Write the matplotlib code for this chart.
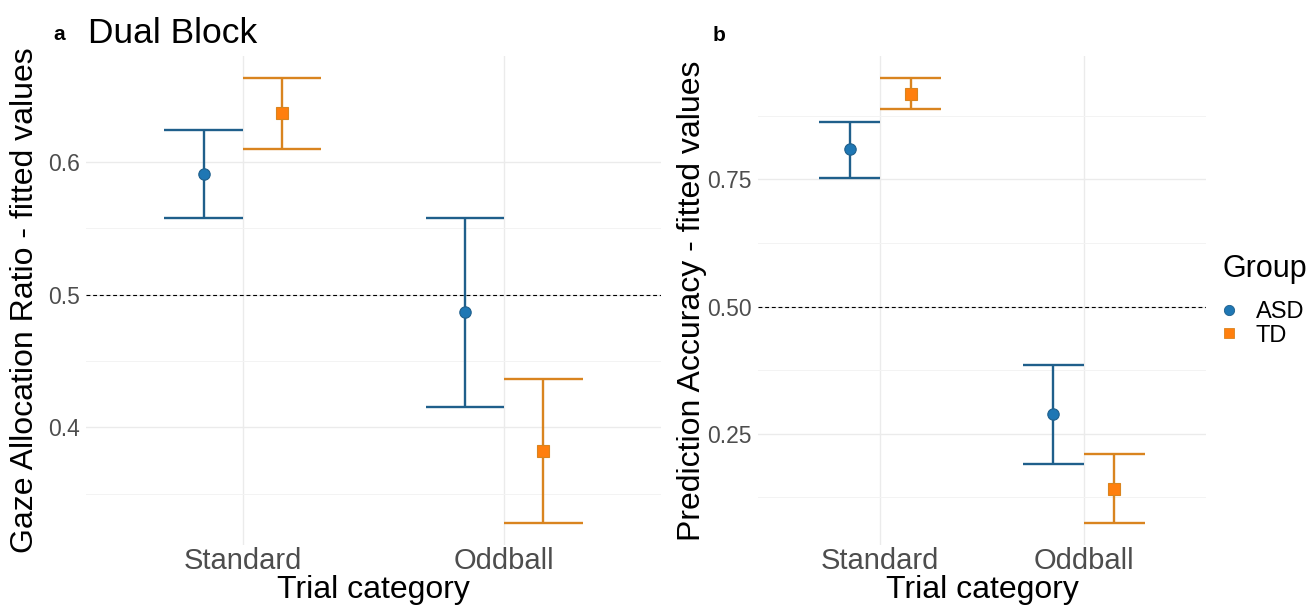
import matplotlib
matplotlib.use("Agg")
import matplotlib.pyplot as plt
from matplotlib.lines import Line2D
import numpy as np

plt.rcParams['font.family'] = ['Liberation Sans', 'DejaVu Sans']

# ---------------- data ----------------
categories = ["Standard", "Oddball"]
groups = ["ASD", "TD"]

# Panel a: Gaze Allocation Ratio (fitted value, lower CI, upper CI)
gaze_asd_fit = [0.591, 0.487]
gaze_asd_lo = [0.558, 0.415]
gaze_asd_hi = [0.624, 0.558]
gaze_td_fit = [0.637, 0.382]
gaze_td_lo = [0.610, 0.328]
gaze_td_hi = [0.663, 0.436]

# Panel b: Prediction Accuracy
pred_asd_fit = [0.809, 0.288]
pred_asd_lo = [0.753, 0.190]
pred_asd_hi = [0.863, 0.385]
pred_td_fit = [0.918, 0.141]
pred_td_lo = [0.888, 0.075]
pred_td_hi = [0.949, 0.210]

gaze_ticks = [0.4, 0.5, 0.6]
gaze_tick_labels = ["0.4", "0.5", "0.6"]
gaze_minor = [0.35, 0.45, 0.55]
pred_ticks = [0.25, 0.50, 0.75]
pred_tick_labels = ["0.25", "0.50", "0.75"]
pred_minor = [0.125, 0.375, 0.625, 0.875]

reference_line = 0.5

# ---------------- style ----------------
line_col = {"ASD": "#1f5f8b", "TD": "#d9841f"}
fill_col = {"ASD": "#1f77b4", "TD": "#ff7f0e"}
marker = {"ASD": "o", "TD": "s"}
msize = {"ASD": 8.2, "TD": 8.6}
offset = {"ASD": -0.15, "TD": 0.15}
cap_half = 0.15
W, H = 1315, 610

fig = plt.figure(figsize=(W / 100, H / 100), dpi=100)
axa = fig.add_axes([86 / W, 65 / H, 575 / W, 489 / H])
axb = fig.add_axes([758 / W, 65 / H, 448 / W, 489 / H])


def draw_panel(ax, series, ticks, tick_labels, minor, ylabel, ylab_x):
    xs = np.arange(1, len(categories) + 1)
    for g in groups:
        fit, lo, hi = series[g]
        x = xs + offset[g]
        ax.vlines(x, lo, hi, color=line_col[g], lw=1.7, zorder=3)
        ax.hlines(lo, x - cap_half, x + cap_half, color=line_col[g], lw=1.7, zorder=3)
        ax.hlines(hi, x - cap_half, x + cap_half, color=line_col[g], lw=1.7, zorder=3)
        ax.plot(x, fit, ls='none', marker=marker[g], ms=msize[g],
                mfc=fill_col[g], mec=line_col[g], mew=0.8, zorder=4)
    ax.axhline(reference_line, color='black', lw=0.8, ls=(0, (3.5, 2.5)), zorder=2)
    ax.margins(y=0.05)
    ax.set_xlim(0.4, len(categories) + 0.6)
    ax.set_xticks(xs)
    ax.set_xticklabels(categories)
    ax.set_yticks(ticks)
    ax.set_yticklabels(tick_labels)
    ax.set_yticks(minor, minor=True)
    ax.grid(axis='y', which='major', color='#EBEBEB', lw=1.0)
    ax.grid(axis='y', which='minor', color='#F3F3F3', lw=0.7)
    ax.grid(axis='x', which='major', color='#EBEBEB', lw=1.0)
    ax.set_axisbelow(True)
    for s in ax.spines.values():
        s.set_visible(False)
    ax.tick_params(axis='both', which='both', length=0)
    ax.tick_params(axis='x', labelsize=21, labelcolor='#4D4D4D', pad=1.5)
    ax.tick_params(axis='y', labelsize=16.5, labelcolor='#4D4D4D', pad=4.3)
    ax.set_xlabel("Trial category", fontsize=23)
    ax.xaxis.set_label_coords(0.5, -0.061)
    ax.set_ylabel(ylabel, fontsize=23)
    ax.yaxis.set_label_coords(ylab_x, 0.5)


draw_panel(axa,
           {"ASD": (gaze_asd_fit, gaze_asd_lo, gaze_asd_hi),
            "TD": (gaze_td_fit, gaze_td_lo, gaze_td_hi)},
           gaze_ticks, gaze_tick_labels, gaze_minor,
           "Gaze Allocation Ratio - fitted values", -0.080)
draw_panel(axb,
           {"ASD": (pred_asd_fit, pred_asd_lo, pred_asd_hi),
            "TD": (pred_td_fit, pred_td_lo, pred_td_hi)},
           pred_ticks, pred_tick_labels, pred_minor,
           "Prediction Accuracy - fitted values", -0.114)

# titles / tags
fig.text(53 / W, 1 - 40 / H, "a", fontsize=15, fontweight='bold', ha='left', va='baseline')
fig.text(88 / W, 1 - 43 / H, "Dual Block", fontsize=25.5, ha='left', va='baseline')
fig.text(713 / W, 1 - 41 / H, "b", fontsize=15, fontweight='bold', ha='left', va='baseline')

# legend
fig.text(1223 / W, 1 - 277 / H, "Group", fontsize=22, ha='left', va='baseline')
handles = [Line2D([], [], ls='none', marker=marker[g], ms=7.4,
                  mfc=fill_col[g], mec=line_col[g], mew=0.6) for g in groups]
fig.legend(handles, groups, loc='center left',
           bbox_to_anchor=(1219.6 / W, 1 - 324 / H), frameon=False,
           borderpad=0, borderaxespad=0, fontsize=17,
           handlelength=0.8, handletextpad=0.74, labelspacing=0.05)

fig.savefig("out.png", dpi=100)
